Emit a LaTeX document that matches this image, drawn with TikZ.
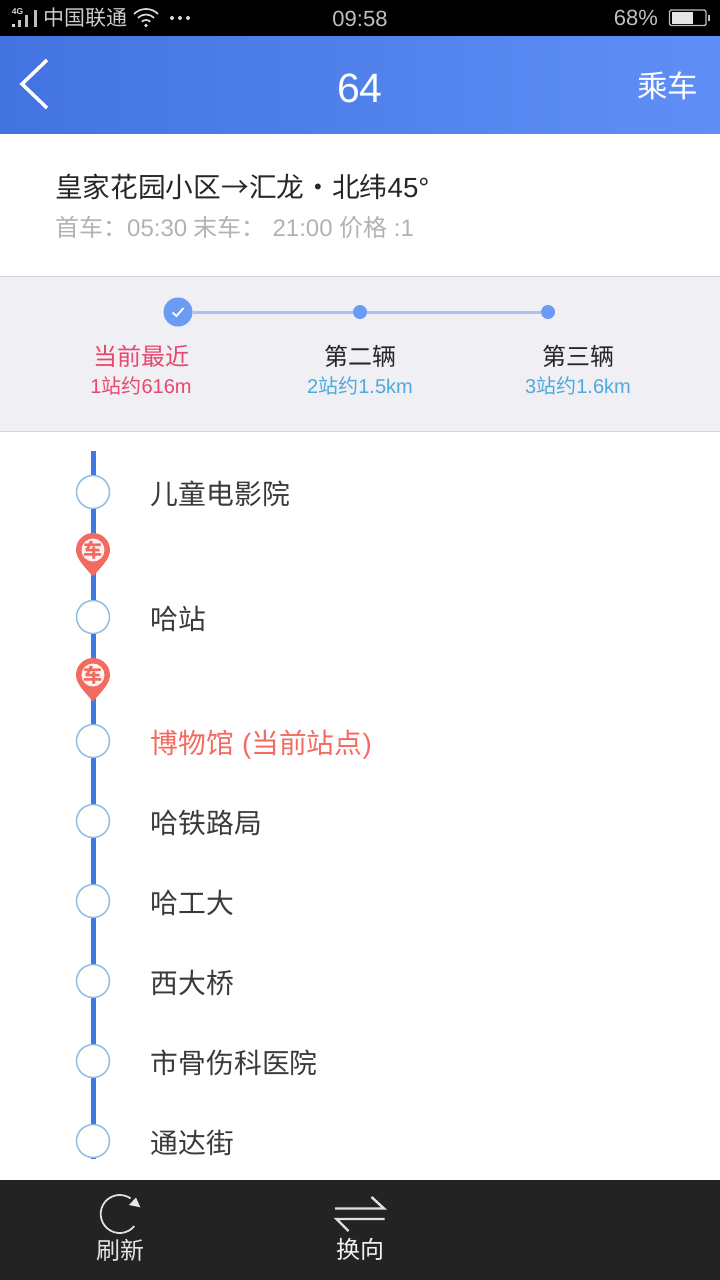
\documentclass[tikz,border=0pt]{standalone}
\usepackage{fontspec}
\setmainfont{Noto Sans CJK SC}
\newfontfamily\lat{Liberation Sans}
\usepackage{tikz}
\usetikzlibrary{positioning}
\definecolor{barleft}{HTML}{4273E0}
\definecolor{barright}{HTML}{5F8FF6}
\definecolor{railblue}{HTML}{4079DF}
\definecolor{ringblue}{HTML}{8FBFE3}
\definecolor{dotblue}{HTML}{6C9BF6}
\definecolor{lineblue}{HTML}{A9C3FA}
\definecolor{bandgray}{HTML}{EFEFF4}
\definecolor{rulegray}{HTML}{D6D6DA}
\definecolor{pinred}{HTML}{F36B60}
\definecolor{nearred}{HTML}{E8476E}
\definecolor{infoblue}{HTML}{4FA9DC}
\definecolor{stationgray}{HTML}{3A3A3A}
\definecolor{dockgray}{HTML}{232323}
\newcommand{\px}[1]{\fontsize{#1}{#1}\selectfont}
\newcommand{\widecolon}{\char"FF1A\relax}
\tikzset{
    buspin/.pic = {
        \fill[pinred] (0,26.5) .. controls (-8,17) and (-17,9) .. (-17,0)
            arc[start angle=180,end angle=360,radius=17]
            .. controls (17,9) and (8,17) .. (0,26.5) -- cycle;
        \fill[white!92!pinred] (0,0) circle (11.5);
        \node[text=pinred,inner sep=0pt,font=\bfseries] (-label) at (0,0) {\px{19}车};
    }
}
\begin{document}
\begin{tikzpicture}[x=1pt,y=-1pt,
            node distance = 40.5pt,
            stop/.style = {circle,draw=ringblue,line width=1.5pt,fill=white,
                minimum size=33pt,inner sep=0pt},
            stoplabel/.style = {text=stationgray,inner sep=0pt,yshift=-3.6pt,
                text height=23pt,text depth=5pt,font=\px{27.8}},
            dot/.style = {circle,fill=dotblue,minimum size=14pt,inner sep=0pt},
            rail/.style = {railblue,line width=5pt},
            plain/.style = {inner sep=0pt},
            icon/.style = {white!88!black,line width=1.8pt},
            swapline/.style = {white!88!black,line width=2.4pt}]
    \useasboundingbox (0,0) rectangle (720,1280);
    % status bar
    \fill[black] (0,0) rectangle (720,36);
    \shade[left color=barleft,right color=barright] (0,36) rectangle (720,133.5);
    \node[plain,white!85!black,font=\lat\bfseries\px{8.5}] (net) at (17.5,12) {4G};
    \fill[white!85!black] (12,24) rectangle (14.6,27);
    \foreach \x/\t in {18/20,25/15,34/10}
        \fill[white!75!black] (\x,\t) rectangle (\x+2.6,27);
    \node[plain,right,white!80!black,font=\px{21}] (carrier) at (43,18) {中国联通};
    \foreach \r in {6,11.5,17}
        \draw[white!85!black,line width=1.7pt] (146,26) ++(-45:\r) arc[start angle=-45,end angle=-135,radius=\r];
    \fill[white!85!black] (146,25.5) circle (1.8);
    \foreach \x in {172,180,188}
        \fill[white!85!black] (\x,18) circle (2);
    \node[plain,white!75!black,font=\lat\px{22}] (clock) at (360,19) {09:58};
    \node[plain,white!75!black,font=\lat\px{22}] (level) at (636,18) {68\%};
    \draw[white!75!black,line width=1.4pt,rounded corners=1.5pt] (669.5,10) rectangle (706,25.5);
    \fill[white!90!black] (671.5,12) rectangle (693,23.5);
    \fill[white!75!black] (707.5,15) rectangle (709.5,21);
    % title bar
    \draw[white,line width=3.5pt] (47,60) -- (22,84) -- (47,108);
    \node[plain,white,font=\lat\px{41}] (line) at (360,88) {64};
    \node[plain,white,font=\px{30.5}] (ride) at (667.5,86) {乘车};
    % route
    \node[plain,right,text=black!85,font=\px{27.7}] (route) at (55,187) {皇家花园小区→汇龙・北纬{\lat 45°}};
    \node[plain,below=16pt of route.south west,anchor=north west,text=black!30,font=\px{24}] (times) {首车\widecolon{\lat 05:30 }末车\widecolon{\lat\ 21:00 }价格{\lat\ :1}};
    % next buses
    \fill[bandgray] (0,277) rectangle (720,431);
    \draw[rulegray] (0,276.5) -- (720,276.5) (0,431) -- (720,431);
    \node[dot,minimum size=29pt] (bus1) at (178,312) {};
    \node[dot] (bus2) at (360,312) {};
    \node[dot] (bus3) at (548,312) {};
    \draw[lineblue,line width=3pt] (bus1) -- (bus2);
    \draw[lineblue,line width=3pt] (bus2) -- (bus3);
    \draw[white,line width=1.8pt] (172.5,312.5) -- (176.5,316) -- (183.5,308);
    \node[plain,text=nearred,font=\px{24}] (near) at (141,356) {当前最近};
    \node[plain,text=black!85,font=\px{24}] (second) at (360,356) {第二辆};
    \node[plain,text=black!85,font=\px{24}] (third) at (578,356) {第三辆};
    \node[plain,text=nearred,font=\px{20}] (neardist) at (141,386) {{\lat 1}站约{\lat 616m}};
    \node[plain,text=infoblue,font=\px{20}] (seconddist) at (360,386) {{\lat 2}站约{\lat 1.5km}};
    \node[plain,text=infoblue,font=\px{20}] (thirddist) at (578,386) {{\lat 3}站约{\lat 1.6km}};
    % stations
    \coordinate (railtop) at (93,451);
    \coordinate (railend) at (93,1159);
    \foreach \i/\y in {1/492,2/617,3/741,4/821,5/901,6/981,7/1061,8/1141}
        \node[stop] (s\i) at (93,\y) {};
    \path[rail]
        (railtop) edge (s1)
        (s1) edge (s2)
        (s2) edge (s3)
        (s3) edge (s4)
        (s4) edge (s5)
        (s5) edge (s6)
        (s6) edge (s7)
        (s7) edge (s8)
        (s8) edge (railend);
    \node[stoplabel,right=of s1] (n1) {儿童电影院};
    \node[stoplabel,right=of s2] (n2) {哈站};
    \node[stoplabel,right=of s3,text=pinred] (n3) {博物馆{\lat\ (}当前站点{\lat )}};
    \node[stoplabel,right=of s4] (n4) {哈铁路局};
    \node[stoplabel,right=of s5] (n5) {哈工大};
    \node[stoplabel,right=of s6] (n6) {西大桥};
    \node[stoplabel,right=of s7] (n7) {市骨伤科医院};
    \node[stoplabel,right=of s8] (n8) {通达街};
    \pic (pin1) at (93,550) {buspin};
    \pic (pin2) at (93,675) {buspin};
    % bottom bar
    \fill[dockgray] (0,1180) rectangle (720,1280);
    \draw[icon] (134.25,1226.2) arc[start angle=40,end angle=305,radius=19];
    \fill[white!90!black] (129,1205) -- (136,1197.5) -- (140.3,1207.3) -- cycle;
    \node[plain,white!90!black,font=\px{24}] (refresh) at (120,1250) {刷新};
    \draw[swapline] (335,1208.5) -- (384,1208.5) -- (371.5,1197);
    \draw[swapline] (384.5,1219) -- (336.5,1219) -- (348.5,1231);
    \node[plain,white!95!black,font=\px{24}] (swap) at (360,1249) {换向};
\end{tikzpicture}
\end{document}
